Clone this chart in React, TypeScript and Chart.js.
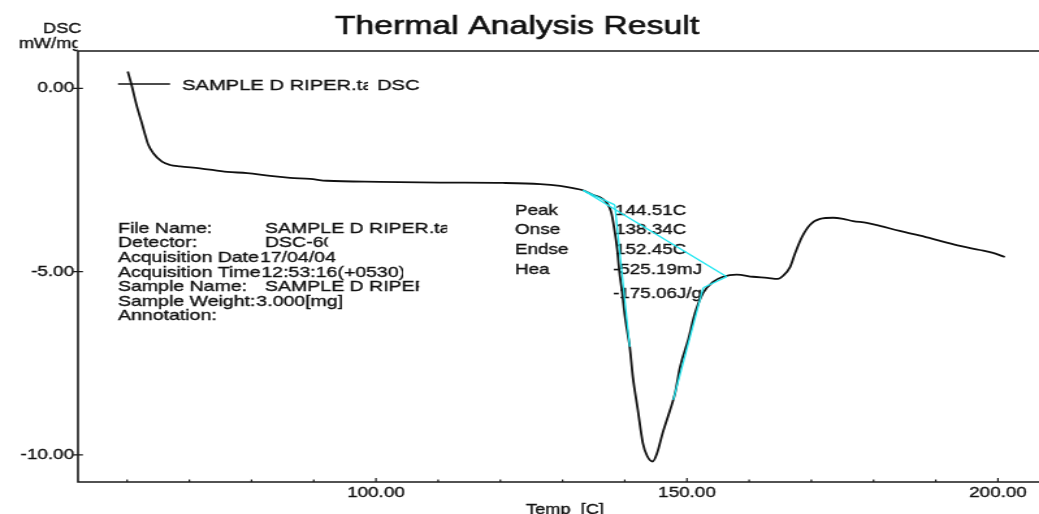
import React, { useEffect, useRef } from "react";
import { Chart, registerables } from "chart.js";

Chart.register(...registerables);

// ---------- data ----------
const temps = [
  60.1, 60.7, 61.5, 62.3, 62.9, 63.4, 64.2, 65.6, 66.9, 68.5, 71.7, 76.1, 79.3, 83.0, 86.2, 89.4, 92.1,
  100.6, 110.3, 120.4, 126.4, 129.6, 131.7, 133.3, 134.9, 136.0, 137.1, 137.8, 138.3, 138.8, 139.1,
  139.6, 140.0, 140.5, 140.8, 141.3, 142.1, 142.9, 143.6, 144.5, 145.2, 146.1, 147.3, 148.1, 148.9,
  150.2, 151.3, 152.6, 154.2, 155.8, 158.0, 160.6, 162.9, 164.6, 165.4, 166.6, 167.4, 168.5, 169.8,
  171.4, 173.5, 175.1, 176.7, 178.9, 181.0, 184.2, 187.5, 190.7, 193.9, 197.1, 199.2, 201.1,
];
const dsc = [
  0.46, 0.1, -0.45, -0.91, -1.27, -1.54, -1.77, -2.0, -2.09, -2.13, -2.18, -2.28, -2.31, -2.39, -2.44, -2.47, -2.52,
  -2.55, -2.57, -2.58, -2.61, -2.66, -2.72, -2.78, -2.91, -2.97, -3.12, -3.37, -3.81, -4.41, -4.95,
  -5.58, -6.18, -6.73, -7.05, -7.87, -8.77, -9.67, -10.03, -10.18, -9.95, -9.4, -8.77, -8.31, -7.6,
  -6.86, -6.13, -5.58, -5.28, -5.14, -5.08, -5.14, -5.17, -5.2, -5.12, -4.87, -4.49, -4.05, -3.72,
  -3.56, -3.53, -3.56, -3.62, -3.67, -3.75, -3.89, -4.02, -4.16, -4.3, -4.41, -4.49, -4.6,
];

// analysis construction lines (cyan): [temp, value] pairs
const baselineLine = [[133.3, -2.78], [156.4, -5.14]];
const preOnsetLine = [[133.3, -2.78], [138.4, -3.18]];
const onsetTangent = [[138.4, -3.18], [140.8, -7.05]];
const endsetLink = [[156.4, -5.14], [152.6, -5.44]];
const endsetTangent = [[152.6, -5.44], [147.8, -8.5]];

const xMin = 52.1;
const xMax = 206.6;
const yMin = -10.74;
const yMax = 1.02;
const xTicks = [60, 70, 80, 90, 100, 110, 120, 130, 140, 150, 160, 170, 180, 190, 200];
const xLabelTicks = [100, 150, 200];
const yTicks = [0, -5, -10];

const titleText = "Thermal Analysis Result";
const yTitleLines = ["DSC", "mW/mg"];
const xTitleText = "Temp  [C]";
const legendName = "SAMPLE D RIPER.ta";
const legendSuffix = "DSC";
const infoLabels = ["File Name:", "Detector:", "Acquisition Date", "Acquisition Time", "Sample Name:", "Sample Weight:", "Annotation:"];
const infoValues = ["SAMPLE D RIPER.tad", "DSC-60", "17/04/04", "12:53:16(+0530)", "SAMPLE D RIPER", "3.000[mg]", ""];
const peakLabels = ["Peak", "Onse", "Endse", "Hea"];
const peakValues = ["144.51C", "138.34C", "152.45C", "-525.19mJ", "-175.06J/g"];

// ---------- layout ----------
const CW = 799;
const CH = 514;
const SX = 1039 / CW;
const X = (v: number) => v / SX;
const FONT = '"Liberation Sans", Arial, Helvetica, sans-serif';
const INK = "#111";
const CYAN = "#1ee6f0";

function drawText(
  ctx: CanvasRenderingContext2D,
  s: string,
  x: number,
  y: number,
  size: number,
  align: CanvasTextAlign = "left",
  clipRight?: number,
  stroke = 0.35
) {
  ctx.save();
  if (clipRight !== undefined) {
    ctx.beginPath();
    ctx.rect(0, 0, X(clipRight), CH);
    ctx.clip();
  }
  ctx.font = `${size}px ${FONT}`;
  ctx.fillStyle = INK;
  ctx.strokeStyle = INK;
  ctx.lineWidth = stroke;
  ctx.textAlign = align;
  ctx.textBaseline = "alphabetic";
  ctx.fillText(s, X(x), y);
  if (stroke > 0) ctx.strokeText(s, X(x), y);
  ctx.restore();
}

const overlay = {
  id: "overlay",
  beforeDatasetsDraw(chart: any) {
    const ctx = chart.ctx as CanvasRenderingContext2D;
    const { left, top, right, bottom } = chart.chartArea;
    const xs = chart.scales.x;
    const ys = chart.scales.y;
    ctx.save();

    // frame
    ctx.strokeStyle = "#1a1a1a";
    ctx.lineWidth = 1.6;
    ctx.beginPath();
    ctx.moveTo(right + 2, top);
    ctx.lineTo(left, top);
    ctx.lineTo(left, bottom);
    ctx.lineTo(right + 2, bottom);
    ctx.stroke();

    // tick marks
    ctx.lineWidth = 1.2;
    ctx.beginPath();
    yTicks.forEach((v) => {
      const y = ys.getPixelForValue(v);
      ctx.moveTo(left - 3.8, y);
      ctx.lineTo(left + 3.8, y);
    });
    xTicks.forEach((v) => {
      const x = xs.getPixelForValue(v);
      const len = xLabelTicks.includes(v) ? 4 : 2.5;
      ctx.moveTo(x, bottom);
      ctx.lineTo(x, bottom - len);
    });
    ctx.stroke();

    // title
    drawText(ctx, titleText, 517, 34, 26, "center", undefined, 0.6);

    // y title
    drawText(ctx, yTitleLines[0], 81.5, 32.5, 14, "right");
    drawText(ctx, yTitleLines[1], 81.5, 48, 14, "right", 77.5);

    // x title
    drawText(ctx, xTitleText, 565, 513.5, 14, "center");

    // legend
    ctx.strokeStyle = "#111";
    ctx.lineWidth = 1.5;
    ctx.beginPath();
    ctx.moveTo(X(118), 84);
    ctx.lineTo(X(170), 84);
    ctx.stroke();
    drawText(ctx, legendName, 182, 89.5, 15.5, "left", 368);
    drawText(ctx, legendSuffix, 377, 89.5, 15.5, "left");

    // info block
    const valueX = [265, 265, -1, -1, 265, -1, 265];
    const clipX = [447, 328, 341, 403, 419, 343, 500];
    infoLabels.forEach((lab, i) => {
      const y = 232.7 + i * 14.6;
      drawText(ctx, lab, 118, y, 15);
      ctx.font = `15px ${FONT}`;
      const labEnd = 118 + ctx.measureText(lab).width * SX;
      const vx = valueX[i] > 0 ? valueX[i] : labEnd + 1;
      if (infoValues[i]) drawText(ctx, infoValues[i], vx, y, 15, "left", clipX[i]);
    });

    // peak block
    const peakY = [215, 234.3, 254.3, 274, 298];
    peakLabels.forEach((lab, i) => drawText(ctx, lab, 515, peakY[i], 14.5));
    peakValues.forEach((val, i) => drawText(ctx, val, i < 3 ? 615 : 613, peakY[i], 14.5));

    ctx.restore();
  },
};

const toPts = (arr: number[][]) => arr.map(([x, y]) => ({ x, y }));

export default function App() {
  const ref = useRef<HTMLCanvasElement>(null);

  useEffect(() => {
    if (!ref.current) return;
    Chart.defaults.font.family = FONT;
    const cyanDs = (pts: number[][]) => ({
      data: toPts(pts),
      borderColor: CYAN,
      borderWidth: 1.3,
      pointRadius: 0,
      tension: 0,
    });
    const chart = new Chart(ref.current, {
      type: "line",
      data: {
        datasets: [
          cyanDs(baselineLine),
          cyanDs(preOnsetLine),
          cyanDs(onsetTangent),
          cyanDs(endsetLink),
          cyanDs(endsetTangent),
          {
            label: "SAMPLE D RIPER DSC",
            data: temps.map((t, i) => ({ x: t, y: dsc[i] })),
            borderColor: "#111",
            borderWidth: 1.8,
            pointRadius: 0,
            cubicInterpolationMode: "monotone",
          },
        ],
      },
      options: {
        animation: false,
        responsive: false,
        maintainAspectRatio: false,
        devicePixelRatio: 1,
        events: [],
        layout: { padding: { top: 51, left: 0, right: 0, bottom: 0 } },
        plugins: { legend: { display: false }, tooltip: { enabled: false }, title: { display: false } },
        scales: {
          x: {
            type: "linear",
            min: xMin,
            max: xMax,
            border: { display: false },
            grid: { display: false, drawTicks: false },
            afterBuildTicks: (s: any) => {
              s.ticks = xTicks.map((v) => ({ value: v }));
            },
            afterFit: (s: any) => {
              s.height = CH - 482;
            },
            ticks: {
              autoSkip: false,
              maxRotation: 0,
              padding: 2,
              color: INK,
              textStrokeColor: INK,
              textStrokeWidth: 0.35,
              font: { size: 14.5, family: FONT },
              callback: (v: any) => (xLabelTicks.includes(Number(v)) ? Number(v).toFixed(2) : ""),
            },
          },
          y: {
            type: "linear",
            min: yMin,
            max: yMax,
            border: { display: false },
            grid: { display: false, drawTicks: false },
            afterBuildTicks: (s: any) => {
              s.ticks = yTicks.map((v) => ({ value: v }));
            },
            afterFit: (s: any) => {
              s.width = X(78);
            },
            ticks: {
              padding: 3,
              color: INK,
              textStrokeColor: INK,
              textStrokeWidth: 0.35,
              font: { size: 14.5, family: FONT },
              callback: (v: any) => Number(v).toFixed(2),
            },
          },
        },
      },
      plugins: [overlay],
    } as any);
    return () => chart.destroy();
  }, []);

  return (
    <div style={{ position: "fixed", left: 0, top: 0, width: 1039, height: CH, background: "#fff", overflow: "hidden" }}>
      <canvas
        ref={ref}
        width={CW}
        height={CH}
        style={{ width: "1039px", height: `${CH}px`, display: "block" }}
      />
    </div>
  );
}
